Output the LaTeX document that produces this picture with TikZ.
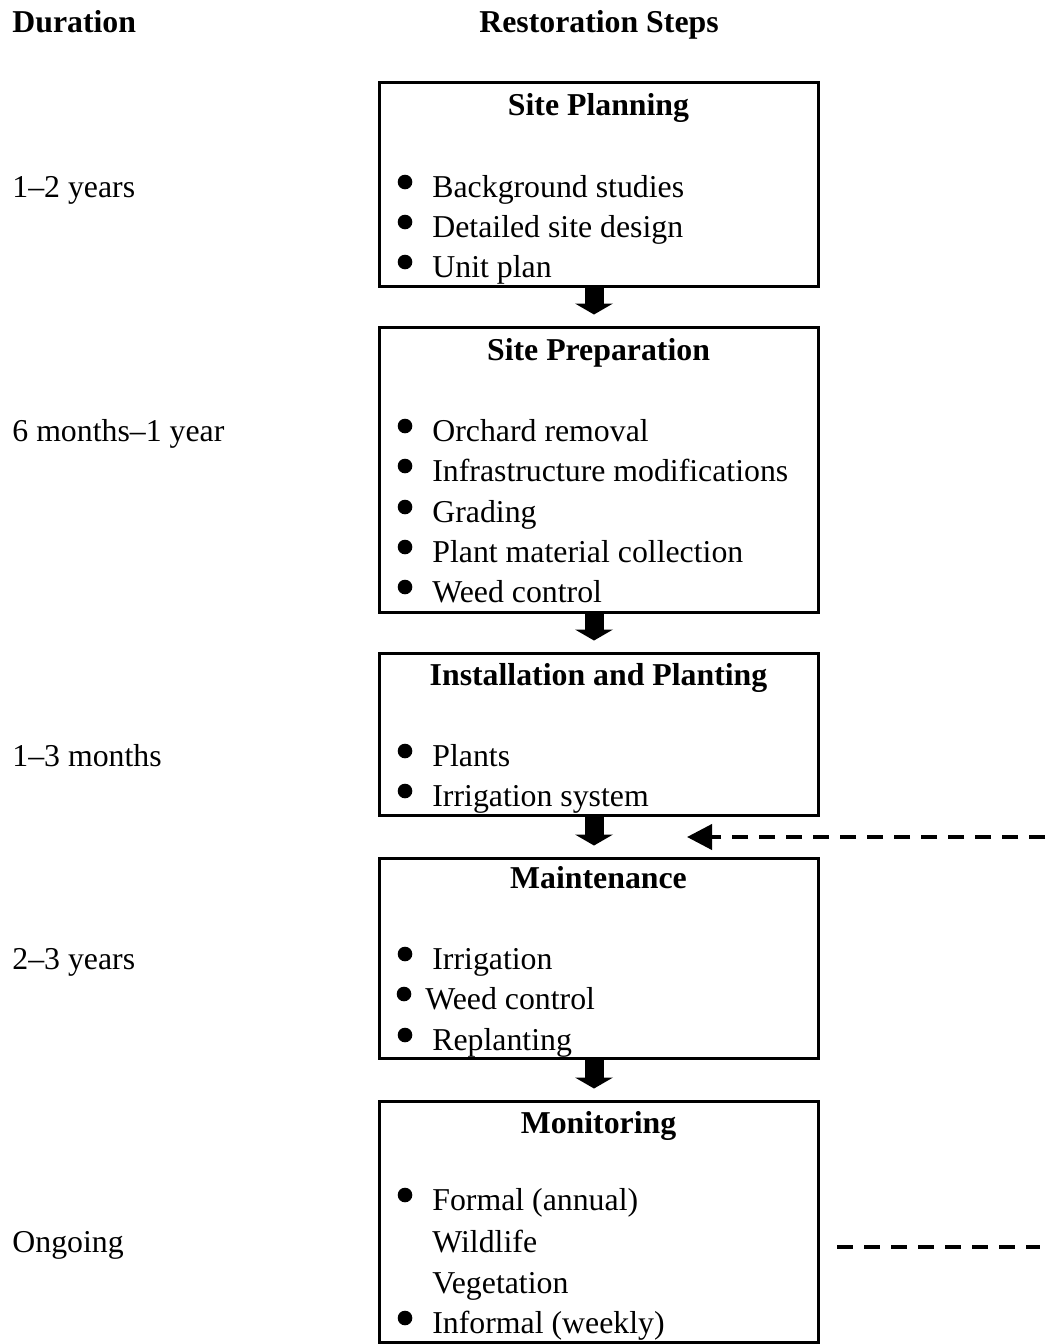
\documentclass[tikz,border=0pt]{standalone}
\usepackage{fontspec}
\setmainfont{Liberation Serif}
\usetikzlibrary{arrows.meta}

\newcommand{\stepfont}{\fontsize{15.9}{20}\selectfont}

\tikzset{
  stepbox/.style={draw, line width=1.5pt, minimum width=219.5pt, inner sep=0pt},
  steptitle/.style={anchor=base, inner sep=0pt, font=\stepfont\bfseries},
  stepitem/.style={anchor=base west, inner sep=0pt, font=\stepfont},
  dot/.style={circle, fill, inner sep=0pt, minimum size=7.3pt},
  blockarrow/.style={line width=9.5pt, -{Triangle[width=19pt, length=5.5pt, line width=0pt]}, shorten >=5.5pt},
  feedback/.style={line width=2pt, dash pattern=on 8pt off 5.5pt}
}

\begin{document}
\begin{tikzpicture}[x=0.5pt, y=-0.5pt]
        \useasboundingbox (0,0) rectangle (1045,1344);

        % 1. COLUMN HEADERS
        \node[steptitle, anchor=base west] (durhead) at (12,32) {Duration};
        \node[steptitle] (stephead) at (599,32) {Restoration Steps};

        % 2. STEP BOXES
        \node[stepbox, minimum height=102pt] (plan) at (598.5,184) {};
        \node[stepbox, minimum height=142.5pt] (prep) at (598.5,469.5) {};
        \node[stepbox, minimum height=81pt] (inst) at (598.5,734) {};
        \node[stepbox, minimum height=100pt] (maint) at (598.5,958) {};
        \node[stepbox, minimum height=120.5pt] (mon) at (598.5,1221.5) {};

        % Site Planning
        \node[steptitle] (plantitle) at (598.5,115) {Site Planning};
        \node[dot] (pd1) at (405,182) {};
        \node[stepitem] (p1) at (432,197) {Background studies};
        \node[dot] (pd2) at (405,222) {};
        \node[stepitem] (p2) at (432,237) {Detailed site design};
        \node[dot] (pd3) at (405,262) {};
        \node[stepitem] (p3) at (432,277) {Unit plan};

        % Site Preparation
        \node[steptitle] (preptitle) at (598.5,360) {Site Preparation};
        \node[dot] (rd1) at (405,426) {};
        \node[stepitem] (r1) at (432,441) {Orchard removal};
        \node[dot] (rd2) at (405,466) {};
        \node[stepitem] (r2) at (432,481) {Infrastructure modifications};
        \node[dot] (rd3) at (405,507) {};
        \node[stepitem] (r3) at (432,522) {Grading};
        \node[dot] (rd4) at (405,547) {};
        \node[stepitem] (r4) at (432,562) {Plant material collection};
        \node[dot] (rd5) at (405,587) {};
        \node[stepitem] (r5) at (432,602) {Weed control};

        % Installation and Planting
        \node[steptitle] (insttitle) at (598.5,685) {Installation and Planting};
        \node[dot] (id1) at (405,751) {};
        \node[stepitem] (i1) at (432,766) {Plants};
        \node[dot] (id2) at (405,791) {};
        \node[stepitem] (i2) at (432,806) {Irrigation system};

        % Maintenance
        \node[steptitle] (mainttitle) at (598.5,888) {Maintenance};
        \node[dot] (md1) at (405,954) {};
        \node[stepitem] (m1) at (432,969) {Irrigation};
        \node[dot] (md2) at (404,994) {};
        \node[stepitem] (m2) at (425,1009) {Weed control};
        \node[dot] (md3) at (405,1035) {};
        \node[stepitem] (m3) at (432,1050) {Replanting};

        % Monitoring
        \node[steptitle] (montitle) at (598.5,1133) {Monitoring};
        \node[dot] (od1) at (405,1195) {};
        \node[stepitem] (o1) at (432,1210) {Formal (annual)};
        \node[stepitem] (o2) at (432,1252) {Wildlife};
        \node[stepitem] (o3) at (432,1293) {Vegetation};
        \node[dot] (od4) at (405,1318) {};
        \node[stepitem] (o4) at (432,1333) {Informal (weekly)};

        % 3. DURATIONS
        \node[stepitem] (dur1) at (12,197) {1–2 years};
        \node[stepitem] (dur2) at (12,441) {6 months–1 year};
        \node[stepitem] (dur3) at (12,766) {1–3 months};
        \node[stepitem] (dur4) at (12,969) {2–3 years};
        \node[stepitem] (dur5) at (12,1252) {Ongoing};

        % 4. BLOCK ARROWS BETWEEN STEPS
        \coordinate (ax) at (594,0);
        \draw[blockarrow] (plan.south -| ax) -- (prep.north -| ax);
        \draw[blockarrow] (prep.south -| ax) -- (inst.north -| ax);
        \draw[blockarrow] (inst.south -| ax) -- (maint.north -| ax);
        \draw[blockarrow] (maint.south -| ax) -- (mon.north -| ax);

        % 5. FEEDBACK FROM MONITORING
        \coordinate (fbin) at (1045,837);
        \coordinate (fbtip) at (687,837);
        \draw[feedback, -{Triangle[width=12.5pt, length=12.5pt]}] (fbin) -- (fbtip);
        \coordinate (mona) at (837,1247);
        \coordinate (monb) at (1040,1247);
        \draw[feedback] (mona) -- (monb);

\end{tikzpicture}
\end{document}
